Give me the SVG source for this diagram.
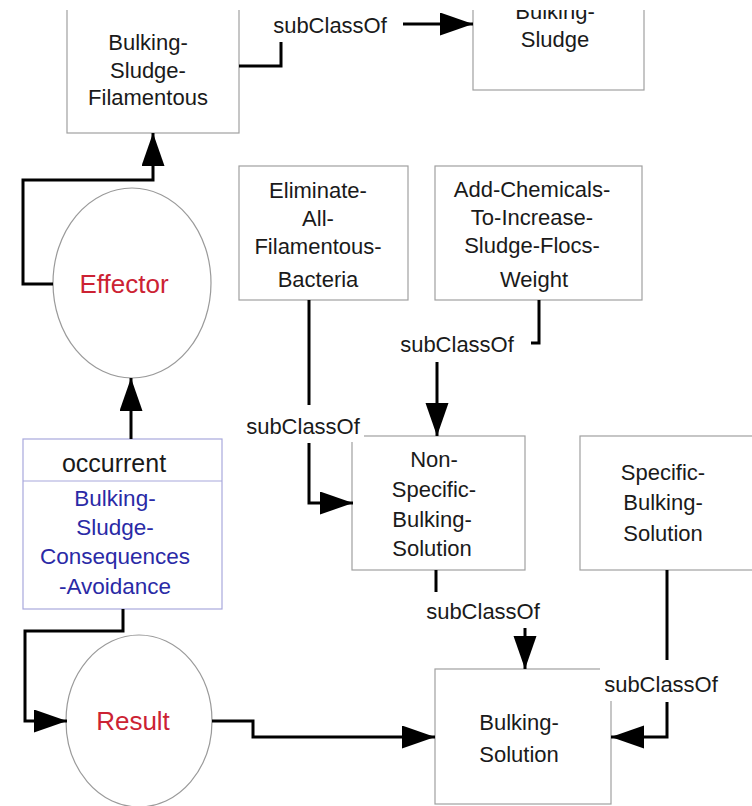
<svg xmlns="http://www.w3.org/2000/svg" width="752" height="806" viewBox="0 0 752 806">
  <style>
    .box { fill: #ffffff; stroke: #a0a0a0; stroke-width: 1.2; }
    .occ { fill: #ffffff; stroke: #a8a8dc; stroke-width: 1.2; }
    .circ { fill: #ffffff; stroke: #9a9a9a; stroke-width: 1.2; }
    text { font-family: "Liberation Sans", Arial, sans-serif; font-size: 22px; fill: #1a1a1a; text-anchor: middle; }
    .red { fill: #cc2233; font-size: 26px; }
    .blue { fill: #2a2aa6; font-size: 22.5px; }
    .big { font-size: 25px; }
    .wire { fill: none; stroke: #000000; stroke-width: 3; stroke-linejoin: miter; }
    .arr { marker-end: url(#head); }
    .lblbg { fill: #ffffff; stroke: none; }
  </style>
  <defs>
    <marker id="head" markerUnits="userSpaceOnUse" markerWidth="34" markerHeight="24" refX="33" refY="11.5" orient="auto">
      <path d="M0,0 L33,11.5 L0,23 Z" fill="#000000"/>
    </marker>
    <clipPath id="page">
      <rect x="0" y="10" width="752" height="796"/>
    </clipPath>
  </defs>
  <rect x="0" y="0" width="752" height="806" fill="#ffffff"/>
  <g clip-path="url(#page)">
    <!-- nodes -->
    <g id="bulking-sludge-filamentous">
      <rect class="box" x="67" y="-20" width="172" height="153"/>
      <text x="148" y="50">Bulking-</text>
      <text x="148" y="78">Sludge-</text>
      <text x="148" y="105">Filamentous</text>
    </g>
    <g id="bulking-sludge">
      <rect class="box" x="473" y="-20" width="171" height="110"/>
      <text x="555" y="19">Bulking-</text>
      <text x="555" y="47">Sludge</text>
    </g>
    <g id="eliminate-all-filamentous-bacteria">
      <rect class="box" x="239" y="166" width="169" height="134"/>
      <text x="318" y="198">Eliminate-</text>
      <text x="318" y="226">All-</text>
      <text x="318" y="254">Filamentous-</text>
      <text x="318" y="287">Bacteria</text>
    </g>
    <g id="add-chemicals">
      <rect class="box" x="435" y="166" width="207" height="134"/>
      <text x="532" y="197">Add-Chemicals-</text>
      <text x="532" y="225">To-Increase-</text>
      <text x="532" y="253">Sludge-Flocs-</text>
      <text x="534" y="287">Weight</text>
    </g>
    <g id="effector">
      <ellipse class="circ" cx="132" cy="283" rx="79" ry="95"/>
      <text class="red" x="124" y="293">Effector</text>
    </g>
    <g id="occurrent">
      <rect class="occ" x="23" y="439" width="199" height="170"/>
      <line class="occ" x1="23" y1="481" x2="222" y2="481"/>
      <text class="big" x="114" y="472">occurrent</text>
      <text class="blue" x="115" y="506">Bulking-</text>
      <text class="blue" x="115" y="535">Sludge-</text>
      <text class="blue" x="115" y="564">Consequences</text>
      <text class="blue" x="115" y="594">-Avoidance</text>
    </g>
    <g id="non-specific-bulking-solution">
      <rect class="box" x="352" y="436" width="173" height="134"/>
      <text x="434" y="467">Non-</text>
      <text x="434" y="497">Specific-</text>
      <text x="432" y="527">Bulking-</text>
      <text x="432" y="556">Solution</text>
    </g>
    <g id="specific-bulking-solution">
      <rect class="box" x="580" y="436" width="190" height="134"/>
      <text x="663" y="480">Specific-</text>
      <text x="663" y="510">Bulking-</text>
      <text x="663" y="541">Solution</text>
    </g>
    <g id="result">
      <ellipse class="circ" cx="139" cy="721" rx="73" ry="86"/>
      <text class="red" x="133" y="730">Result</text>
    </g>
    <g id="bulking-solution">
      <rect class="box" x="435" y="669" width="176" height="135"/>
      <text x="519" y="730">Bulking-</text>
      <text x="519" y="762">Solution</text>
    </g>

    <!-- connectors -->
    <g id="connectors">
      <!-- Bulking-Sludge-Filamentous subClassOf Bulking-Sludge -->
      <path class="wire" d="M239,66 H281 V42"/>
      <text x="330" y="33">subClassOf</text>
      <path class="wire arr" d="M403,24 H473"/>

      <!-- Effector to Bulking-Sludge-Filamentous -->
      <path class="wire arr" d="M53,284 H23 V180 H153 V133"/>

      <!-- occurrent to Effector -->
      <path class="wire arr" d="M131,439 V378"/>

      <!-- occurrent to Result -->
      <path class="wire arr" d="M123,609 V631 H25 V721 H67"/>

      <!-- Result to Bulking-Solution -->
      <path class="wire arr" d="M212,721 H253 V737 H435"/>

      <!-- Eliminate-All-Filamentous-Bacteria subClassOf Non-Specific -->
      <path class="wire" d="M309,300 V405"/>
      <rect class="lblbg" x="243" y="413" width="121" height="29"/>
      <text x="303" y="434">subClassOf</text>
      <path class="wire arr" d="M309,443 V503 H353"/>

      <!-- Add-Chemicals subClassOf Non-Specific -->
      <path class="wire" d="M539,300 V343 H531"/>
      <text x="457" y="352">subClassOf</text>
      <path class="wire arr" d="M437,362 V436"/>

      <!-- Non-Specific subClassOf Bulking-Solution -->
      <path class="wire" d="M436,570 V592"/>
      <text x="483" y="619">subClassOf</text>
      <path class="wire arr" d="M525,628 V669"/>

      <!-- Specific subClassOf Bulking-Solution -->
      <path class="wire" d="M667,570 V660"/>
      <rect class="lblbg" x="600" y="668" width="122" height="33"/>
      <text x="661" y="692">subClassOf</text>
      <path class="wire arr" d="M667,702 V737 H611"/>
    </g>
  </g>
</svg>
